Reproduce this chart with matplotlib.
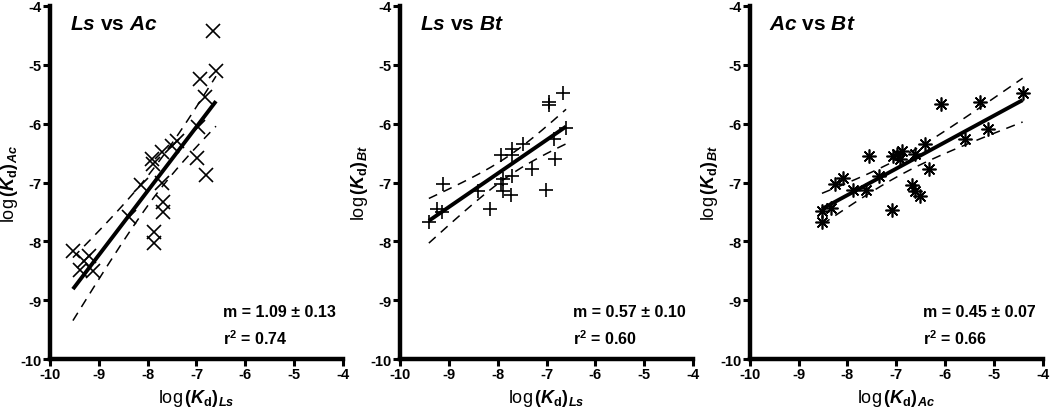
import numpy as np
import matplotlib
matplotlib.use("Agg")
import matplotlib.pyplot as plt

plt.rcParams['font.family'] = ['Liberation Sans', 'DejaVu Sans']
plt.rcParams['font.weight'] = 'bold'
plt.rcParams['mathtext.fontset'] = 'custom'
plt.rcParams['mathtext.rm'] = 'Liberation Sans:bold'
plt.rcParams['mathtext.it'] = 'Liberation Sans:bold:italic'
plt.rcParams['mathtext.bf'] = 'Liberation Sans:bold'

# ---------------- data ----------------
ls_x1 = [-6.66, -6.60, -6.93, -6.83, -6.97, -6.99, -6.81, -7.40, -7.50, -7.70,
         -7.92, -7.88, -7.70, -8.14, -7.68, -7.68, -7.86, -7.86, -8.38, -9.53,
         -9.20, -9.30, -9.38, -9.12]
ac_y1 = [-4.42, -5.10, -5.24, -5.54, -6.05, -6.58, -6.88, -6.30, -6.38, -6.48,
         -6.60, -6.68, -7.00, -7.05, -7.33, -7.50, -7.84, -8.02, -7.59, -8.17,
         -8.25, -8.33, -8.48, -8.51]

ls_x2 = [-6.66, -6.95, -6.94, -6.60, -6.84, -6.82, -7.30, -7.01, -7.48, -7.70,
         -7.70, -7.93, -7.70, -7.89, -7.93, -7.89, -7.73, -9.12, -8.40, -8.16,
         -9.24, -9.14, -9.41]
bt_y2 = [-5.48, -5.64, -5.68, -6.08, -6.26, -6.60, -6.77, -7.13, -6.35, -6.43,
         -6.53, -6.53, -6.89, -6.94, -7.03, -7.14, -7.22, -7.02, -7.14, -7.45,
         -7.45, -7.50, -7.67]

ac_x3 = [-4.41, -5.28, -6.08, -5.11, -5.59, -6.41, -6.88, -7.06, -6.92, -6.98,
         -6.61, -7.55, -6.32, -7.35, -8.09, -8.25, -7.89, -7.62, -6.67, -6.61,
         -6.51, -8.52, -8.52, -8.34, -7.08]
bt_y3 = [-5.48, -5.64, -5.67, -6.09, -6.26, -6.35, -6.46, -6.55, -6.60, -6.52,
         -6.52, -6.55, -6.77, -6.89, -6.93, -7.03, -7.13, -7.13, -7.04, -7.14,
         -7.23, -7.49, -7.67, -7.44, -7.47]

slopes = [1.09, 0.57, 0.45]
slope_err = [0.13, 0.10, 0.07]
intercepts = [1.576, -2.287, -3.615]
r2_values = [0.74, 0.60, 0.66]

titles = [(r'$\mathit{Ls}$', r'$\mathit{Ac}$'),
          (r'$\mathit{Ls}$', r'$\mathit{Bt}$'),
          (r'$\mathit{Ac}$', r'$\mathit{Bt}$')]
xlabels = [r'log$\,(\mathit{K}_{\mathrm{d}})_{\mathit{Ls}}$',
           r'log$\,(\mathit{K}_{\mathrm{d}})_{\mathit{Ls}}$',
           r'log$\,(\mathit{K}_{\mathrm{d}})_{\mathit{Ac}}$']
ylabels = [r'log$\,(\mathit{K}_{\mathrm{d}})_{\mathit{Ac}}$',
           r'log$\,(\mathit{K}_{\mathrm{d}})_{\mathit{Bt}}$',
           r'log$\,(\mathit{K}_{\mathrm{d}})_{\mathit{Bt}}$']
ticks = [-10, -9, -8, -7, -6, -5, -4]

datasets = [(ls_x1, ac_y1), (ls_x2, bt_y2), (ac_x3, bt_y3)]
markers = ['x', '+', (8, 2, 0)]
msizes = [9.5, 10, 10]

T95 = 2.07

fig = plt.figure(figsize=(10.5, 4.14), dpi=100)
lefts = [0.0476, 0.381, 0.714]
for i in range(3):
    ax = fig.add_axes([lefts[i], 0.1304, 0.279, 0.8527])
    x = np.array(datasets[i][0])
    y = np.array(datasets[i][1])
    ax.plot(x, y, linestyle='none', marker=markers[i], ms=msizes[i],
            mew=1.2, color='black', zorder=3)
    m, b = slopes[i], intercepts[i]
    xs = np.linspace(x.min(), x.max(), 200)
    yl = m * xs + b
    n = len(x)
    resid = y - (m * x + b)
    s = np.sqrt(np.sum(resid ** 2) / (n - 2))
    sxx = np.sum((x - x.mean()) ** 2)
    hw = T95 * s * np.sqrt(1.0 / n + (xs - x.mean()) ** 2 / sxx)
    ax.plot(xs, yl, color='black', lw=2.8, zorder=4, solid_capstyle='butt')
    for sign in (1, -1):
        ax.plot(xs, yl + sign * hw, color='black', lw=1.1,
                dashes=(6, 4.5), zorder=2)

    ax.set_xlim(-10, -4)
    ax.set_ylim(-10, -4)
    ax.set_xticks(ticks)
    ax.set_yticks(ticks)
    ax.set_xticklabels([str(t) for t in ticks])
    ax.set_yticklabels([str(t) for t in ticks])
    for sp in ('top', 'right'):
        ax.spines[sp].set_visible(False)
    for sp in ('left', 'bottom'):
        ax.spines[sp].set_linewidth(3.2)
        ax.spines[sp].set_capstyle('projecting')
    ax.tick_params(direction='out', length=5, width=2.2, labelsize=10.5,
                   pad=1.0)
    for lab in ax.get_xticklabels() + ax.get_yticklabels():
        lab.set_fontweight('bold')
    ax.set_xlabel(xlabels[i], fontsize=13, labelpad=4)
    ax.set_ylabel(ylabels[i], fontsize=13, labelpad=0)

    t1, t2 = titles[i]
    ax.text(-9.6, -4.3, t1 + ' vs ' + t2, fontsize=15, fontweight='bold',
            va='center', ha='left')
    ax.text(-6.45, -9.2, 'm = %.2f \u00b1 %.2f' % (slopes[i], slope_err[i]),
            fontsize=11.5, fontweight='bold', va='center', ha='left')
    ax.text(-6.45, -9.63, r'r$^2$ = %.2f' % r2_values[i],
            fontsize=11.5, fontweight='bold', va='center', ha='left')
    ax.patch.set_alpha(0)

fig.savefig('out.png', dpi=100)
